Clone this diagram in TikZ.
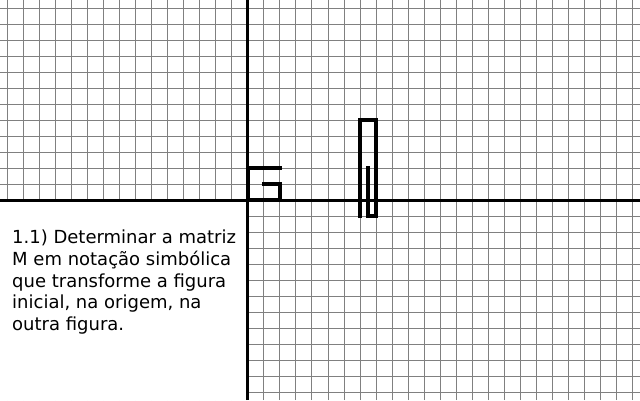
\documentclass[tikz,border=0pt]{standalone}
\usepackage{fontspec}
\setmainfont{DejaVu Sans}
\begin{document}
\begin{tikzpicture}[x=16pt,y=16pt,
  gridline/.style={draw=black!50,line width=1pt},
  axisline/.style={draw=black,line width=3pt},
  figline/.style={draw=black,line width=4pt,line cap=rect,line join=miter},
  label/.style={anchor=north west,align=left,inner sep=0pt,font=\fontsize{18}{21.6}\selectfont}]
\useasboundingbox (-248pt,-200pt) rectangle (392pt,200pt);
\fill[white] (-248pt,-200pt) rectangle (392pt,200pt);
% grid
\draw[gridline,step=16pt] (-248pt,-200pt) grid (392pt,200pt);
% blank area for the text
\fill[white] (-248pt,-200pt) rectangle (0,0);
% axes
\draw[axisline] (-248pt,0) -- (392pt,0);
\draw[axisline] (0,-200pt) -- (0,200pt);
% initial figure (G)
\draw[figline] (1,1) -- (2,1) -- (2,0) -- (0,0) -- (0,2) -- (2,2);
% transformed figure
\draw[figline] (7,-1) -- (7,5) -- (8,5) -- (8,-1) -- (7.5,-1) -- (7.5,2);
% text
\node[label] (task) at (-236pt,-30pt) {1.1) Determinar a matriz\\M em notação simbólica\\que transforme a figura\\inicial, na origem, na\\outra figura.};
\end{tikzpicture}
\end{document}
